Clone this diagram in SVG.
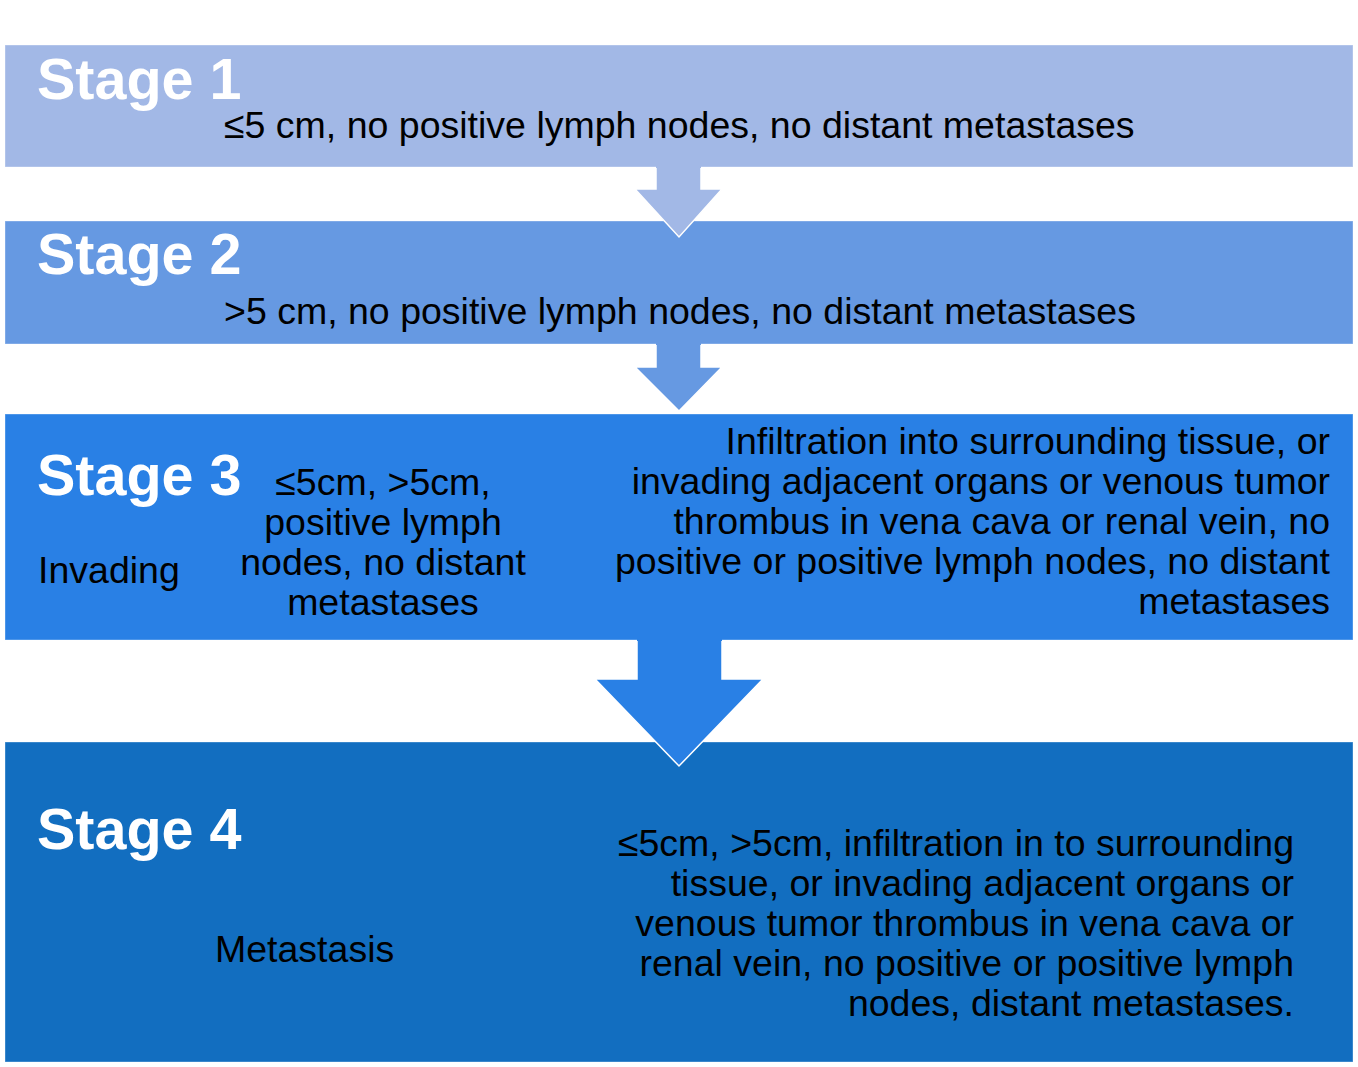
<svg xmlns="http://www.w3.org/2000/svg" width="1358" height="1067" viewBox="0 0 1358 1067">
<style>
.box{stroke:#ffffff;stroke-opacity:0.35;stroke-width:1}
.outline{fill:none;stroke:#ffffff;stroke-width:1.5;stroke-linejoin:miter}
.title{font-family:"Liberation Sans",Arial,sans-serif;font-weight:bold;font-size:57.5px;fill:#ffffff}
.body{font-family:"Liberation Sans",Arial,sans-serif;font-size:37.5px;fill:#000000}
.r{text-anchor:end}
.m{text-anchor:middle}
</style>
<rect width="1358" height="1067" fill="#ffffff"/>
<g id="stage1">
<rect class="box" x="5" y="45" width="1348" height="122" fill="#A2B8E6"/>
<text class="title" x="37" y="99">Stage 1</text>
<text class="body" x="224" y="138">≤5 cm, no positive lymph nodes, no distant metastases</text>
</g>
<g id="stage2">
<rect class="box" x="5" y="221" width="1348" height="123" fill="#6699E2"/>
<text class="title" x="37" y="274">Stage 2</text>
<text class="body" x="224" y="324">&gt;5 cm, no positive lymph nodes, no distant metastases</text>
</g>
<g id="stage3">
<rect class="box" x="5" y="414" width="1348" height="226" fill="#2980E5"/>
<text class="title" x="37" y="495">Stage 3</text>
<text class="body" x="38" y="583">Invading</text>
<text class="body m" x="383" y="495">≤5cm, &gt;5cm,</text>
<text class="body m" x="383" y="535">positive lymph</text>
<text class="body m" x="383" y="575">nodes, no distant</text>
<text class="body m" x="383" y="615">metastases</text>
<text class="body r" x="1330" y="454">Infiltration into surrounding tissue, or</text>
<text class="body r" x="1330" y="494">invading adjacent organs or venous tumor</text>
<text class="body r" x="1330" y="534">thrombus in vena cava or renal vein, no</text>
<text class="body r" x="1330" y="574">positive or positive lymph nodes, no distant</text>
<text class="body r" x="1330" y="614">metastases</text>
</g>
<g id="stage4">
<rect class="box" x="5" y="742" width="1348" height="320" fill="#126EC0"/>
<text class="title" x="37" y="849">Stage 4</text>
<text class="body" x="215" y="962">Metastasis</text>
<text class="body r" x="1294" y="856">≤5cm, &gt;5cm, infiltration in to surrounding</text>
<text class="body r" x="1294" y="896">tissue, or invading adjacent organs or</text>
<text class="body r" x="1294" y="936">venous tumor thrombus in vena cava or</text>
<text class="body r" x="1294" y="976">renal vein, no positive or positive lymph</text>
<text class="body r" x="1294" y="1016">nodes, distant metastases.</text>
</g>
<g id="connectors">
<path fill="#A2B8E6" d="M656,166 L701,166 L701,189 L722,189 L679,237 L635,189 L656,189 Z"/>
<path class="outline" d="M701,168 L701,189 L722,189 L679,237 L635,189 L656,189 L656,168"/>
<path fill="#6699E2" d="M656,343 L701,343 L701,367 L722,367 L679,411 L635,367 L656,367 Z"/>
<path class="outline" d="M701,345 L701,367 L722,367 L679,411 L635,367 L656,367 L656,345"/>
<path fill="#2980E5" d="M637,639 L722,639 L722,679 L763,679 L679,766 L595,679 L637,679 Z"/>
<path class="outline" d="M722,641 L722,679 L763,679 L679,766 L595,679 L637,679 L637,641"/>
</g>
</svg>
